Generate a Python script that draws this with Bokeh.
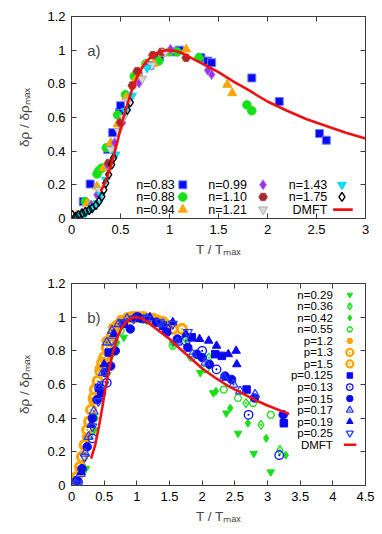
from bokeh.plotting import figure
from bokeh.layouts import column
from bokeh.models import Label, LinearAxis, FixedTicker, Range1d
from bokeh.embed import file_html
from bokeh.resources import INLINE

# ---------------- tick values / labels ----------------
y_ticks = [0, 0.2, 0.4, 0.6, 0.8, 1.0, 1.2]
y_tick_labels = ["0", "0.2", "0.4", "0.6", "0.8", "1", "1.2"]
a_x_ticks = [0, 0.5, 1, 1.5, 2, 2.5, 3]
a_x_tick_labels = ["0", "0.5", "1", "1.5", "2", "2.5", "3"]
b_x_ticks = [0, 0.5, 1, 1.5, 2, 2.5, 3, 3.5, 4, 4.5]
b_x_tick_labels = ["0", "0.5", "1", "1.5", "2", "2.5", "3", "3.5", "4", "4.5"]

# ---------------- DMFT curve (both panels) ----------------
dmft_x = [0.30, 0.365, 0.42, 0.47, 0.52, 0.57, 0.62, 0.67, 0.72, 0.76, 0.82, 0.88, 0.95, 1.00,
          1.06, 1.12, 1.20, 1.30, 1.40, 1.50, 1.65, 1.80, 2.00, 2.20, 2.40, 2.60, 2.80, 3.00, 3.20, 3.33]
dmft_y = [0.16, 0.245, 0.35, 0.46, 0.58, 0.68, 0.77, 0.84, 0.895, 0.93, 0.965, 0.985, 0.998, 1.00,
          0.995, 0.985, 0.96, 0.93, 0.90, 0.87, 0.815, 0.765, 0.695, 0.64, 0.59, 0.55, 0.51, 0.475, 0.445, 0.425]

# ---------------- panel a data ----------------
a_labels = ["n=0.83", "n=0.88", "n=0.94", "n=0.99", "n=1.10", "n=1.21", "n=1.43", "n=1.75"]
a_n083_x = [0.12, 0.19, 0.37, 0.42, 0.49, 0.50, 0.68, 0.80, 0.90, 1.06, 1.10, 1.32, 1.39, 1.43, 1.84, 2.12, 2.53, 2.60]
a_n083_y = [0.10, 0.205, 0.41, 0.51, 0.63, 0.67, 0.85, 0.91, 0.96, 0.99, 1.00, 0.955, 0.935, 0.925, 0.835, 0.695, 0.505, 0.465]
a_n088_x = [0.14, 0.26, 0.28, 0.31, 0.355, 0.47, 0.55, 0.64, 0.76, 0.89, 1.00, 1.08, 1.30, 1.79, 1.84]
a_n088_y = [0.10, 0.265, 0.285, 0.30, 0.42, 0.615, 0.735, 0.845, 0.92, 0.935, 0.99, 0.99, 0.955, 0.675, 0.64]
a_n094_x = [0.05, 0.16, 0.26, 0.33, 0.40, 0.47, 0.56, 0.66, 0.70, 0.75, 0.84, 0.93, 1.17, 1.59, 1.64]
a_n094_y = [0.02, 0.09, 0.19, 0.30, 0.45, 0.56, 0.72, 0.83, 0.84, 0.91, 0.92, 0.98, 1.005, 0.795, 0.745]
a_n099_x = [0.10, 0.20, 0.26, 0.365, 0.44, 0.52, 0.69, 0.78, 1.01, 1.39, 1.43]
a_n099_y = [0.03, 0.08, 0.14, 0.32, 0.45, 0.57, 0.805, 0.91, 1.005, 0.88, 0.855]
a_n110_x = [0.38, 0.50, 0.62, 0.67, 0.83, 0.92, 1.17]
a_n110_y = [0.33, 0.57, 0.79, 0.875, 0.97, 0.99, 0.955]
a_n121_x = [0.04, 0.15, 0.28, 0.40, 0.48, 0.53, 0.58, 0.72, 0.82, 0.96]
a_n121_y = [0.00, 0.04, 0.17, 0.41, 0.52, 0.60, 0.70, 0.83, 0.91, 0.99]
a_n143_x = [0.02, 0.06, 0.10, 0.14, 0.18, 0.22, 0.26, 0.30, 0.35, 0.45, 0.55, 0.62, 0.77]
a_n143_y = [0.00, 0.01, 0.02, 0.03, 0.05, 0.07, 0.09, 0.14, 0.23, 0.38, 0.64, 0.73, 0.895]
a_n175_x = [0.01, 0.04, 0.07, 0.11, 0.14, 0.18, 0.21, 0.25, 0.28, 0.31, 0.33, 0.35, 0.38, 0.41, 0.43, 0.57, 0.60]
a_n175_y = [0.02, 0.01, 0.02, 0.03, 0.04, 0.05, 0.06, 0.08, 0.10, 0.13, 0.17, 0.21, 0.26, 0.32, 0.36, 0.645, 0.69]

# ---------------- panel b data ----------------
b_labels = ["n=0.29", "n=0.36", "n=0.42", "n=0.55", "p=1.2", "p=1.3", "p=1.5",
            "p=0.125", "p=0.13", "p=0.15", "p=0.17", "p=0.19", "p=0.25"]
b_n029_x = [0.22, 0.35, 0.55, 0.80, 1.20, 1.55, 1.97, 2.17, 2.37, 2.55, 2.79, 3.05]
b_n029_y = [0.10, 0.33, 0.66, 0.88, 0.99, 0.84, 0.67, 0.55, 0.43, 0.31, 0.19, 0.08]
b_n036_x = [0.28, 0.62, 1.10, 1.75, 2.10, 2.67, 2.90, 3.19]
b_n036_y = [0.30, 0.78, 0.99, 0.87, 0.76, 0.49, 0.36, 0.21]
b_n042_x = [0.18, 0.45, 0.70, 1.30, 2.21, 2.43, 2.70, 2.98, 3.28]
b_n042_y = [0.12, 0.55, 0.85, 0.98, 0.56, 0.46, 0.37, 0.28, 0.18]
b_n055_x = [0.35, 0.55, 0.75, 1.05, 1.55, 1.84, 2.05, 2.33, 2.55, 2.78, 3.05]
b_n055_y = [0.40, 0.70, 0.92, 1.00, 0.83, 0.76, 0.69, 0.57, 0.52, 0.49, 0.42]
b_p12_x = [0.02, 0.12, 0.22, 0.32, 0.42, 0.52, 0.62, 0.75, 0.90, 1.05, 1.25]
b_p12_y = [0.01, 0.09, 0.29, 0.50, 0.70, 0.86, 0.94, 0.99, 1.00, 1.00, 0.99]
b_p13_x = [0.00, 0.08, 0.16, 0.24, 0.30, 0.36, 0.44, 0.50, 0.58, 0.66, 0.76, 0.86, 0.96, 1.10, 1.25, 1.40, 1.55]
b_p13_y = [0.00, 0.05, 0.17, 0.33, 0.45, 0.57, 0.68, 0.76, 0.86, 0.92, 0.97, 0.995, 1.00, 1.00, 0.99, 0.97, 0.93]
b_p15_x = [0.05, 0.13, 0.20, 0.27, 0.34, 0.40, 0.47, 0.54, 0.62, 0.70, 0.80, 0.92, 1.02, 1.18, 1.32, 1.48, 1.69]
b_p15_y = [0.02, 0.11, 0.24, 0.38, 0.52, 0.62, 0.73, 0.82, 0.89, 0.95, 0.98, 1.00, 1.00, 0.99, 0.98, 0.95, 0.93]
b_p0125_x = [0.42, 0.57, 0.80, 1.10, 1.40, 1.84, 2.20, 2.30, 2.68, 3.25]
b_p0125_y = [0.58, 0.79, 0.96, 0.99, 0.95, 0.88, 0.78, 0.77, 0.57, 0.37]
b_p013_x = [0.10, 0.32, 0.54, 1.00, 1.45, 1.75, 2.00, 2.22, 2.71, 3.18]
b_p013_y = [0.02, 0.28, 0.61, 1.00, 0.93, 0.86, 0.80, 0.69, 0.42, 0.18]
b_p015_x = [0.08, 0.16, 0.24, 0.32, 0.39, 0.46, 0.52, 0.60, 0.67, 0.90, 1.02, 1.30, 1.46, 1.62, 1.78, 1.92, 2.00, 2.11, 2.35, 2.45, 2.80, 3.24]
b_p015_y = [0.03, 0.10, 0.23, 0.40, 0.51, 0.55, 0.67, 0.71, 0.80, 0.93, 1.00, 0.97, 0.91, 0.87, 0.82, 0.78, 0.76, 0.72, 0.65, 0.63, 0.52, 0.42]
b_p017_x = [0.06, 0.14, 0.21, 0.26, 0.34, 0.42, 0.48, 0.54, 0.62, 0.72, 0.85, 1.15, 1.40, 1.62, 1.85, 2.05, 2.33, 2.48, 2.58, 2.81]
b_p017_y = [0.01, 0.07, 0.19, 0.29, 0.44, 0.59, 0.67, 0.85, 0.92, 0.96, 0.99, 0.99, 0.96, 0.85, 0.78, 0.73, 0.64, 0.60, 0.56, 0.54]
b_p019_x = [0.15, 0.30, 0.50, 0.65, 0.95, 1.20, 1.55, 1.75, 1.96, 2.10, 2.22, 2.40, 2.52, 2.53]
b_p019_y = [0.08, 0.36, 0.72, 0.90, 0.99, 1.00, 0.97, 0.90, 0.87, 0.86, 0.83, 0.78, 0.80, 0.72]
b_p025_x = [0.09, 0.20, 0.32, 0.41, 0.50, 0.62, 0.78, 0.95, 1.15, 1.35, 1.55, 1.78]
b_p025_y = [0.01, 0.17, 0.35, 0.50, 0.60, 0.86, 0.97, 0.99, 0.99, 0.97, 0.96, 0.91]

FONT = "Liberation Sans"
FRAME = "#3a3a3a"

BLUE = "#0a0af0"
GREEN = "#18e018"
ORANGE = "#ffa500"


def make_fig(xmax, xticks, xlabels, height, top, bottom):
    p = figure(width=382, height=height, x_range=Range1d(0, xmax), y_range=Range1d(0, 1.2),
               output_backend="svg", toolbar_location=None,
               min_border_left=71, min_border_right=17, min_border_top=top, min_border_bottom=bottom)
    p.grid.visible = False
    p.outline_line_color = FRAME
    p.outline_line_width = 1
    p.background_fill_color = "white"
    p.border_fill_color = "white"
    bottom_ax = p.xaxis[0]
    left_ax = p.yaxis[0]
    bottom_ax.ticker = FixedTicker(ticks=xticks)
    left_ax.ticker = FixedTicker(ticks=y_ticks)
    bottom_ax.major_label_overrides = {t: l for t, l in zip(xticks, xlabels)}
    left_ax.major_label_overrides = {t: l for t, l in zip(y_ticks, y_tick_labels)}
    # mirrored axes (ticks only)
    top_ax = LinearAxis(ticker=FixedTicker(ticks=xticks),
                        major_label_overrides={t: "" for t in xticks})
    right_ax = LinearAxis(ticker=FixedTicker(ticks=y_ticks),
                          major_label_overrides={t: "" for t in y_ticks})
    p.add_layout(top_ax, "above")
    p.add_layout(right_ax, "right")
    for ax in [bottom_ax, left_ax, top_ax, right_ax]:
        ax.major_tick_in = 5
        ax.major_tick_out = 0
        ax.minor_tick_in = 0
        ax.minor_tick_out = 0
        ax.axis_line_color = FRAME
        ax.major_tick_line_color = FRAME
        ax.major_label_text_font = FONT
        ax.major_label_text_font_size = "13px"
        ax.major_label_text_color = "black"
        ax.axis_label_text_font = FONT
        ax.axis_label_text_font_style = "normal"
        ax.axis_label_text_font_size = "13.5px"
    for ax in [top_ax, right_ax]:
        ax.major_label_standoff = 0
        ax.major_label_text_font_size = "0px"
    bottom_ax.major_label_standoff = 6
    left_ax.major_label_standoff = 6
    bottom_ax.axis_label = "T / Tₘₐₓ"
    bottom_ax.axis_label_standoff = 5
    left_ax.axis_label = "δρ / δρₘₐₓ"
    left_ax.axis_label_standoff = 12
    return p


def pts(p, x, y, marker, size, fill, line, lw=1.0):
    p.scatter(x=x, y=y, marker=marker, size=size, fill_color=fill, line_color=line, line_width=lw)


# ================= panel a =================
pa = make_fig(3, a_x_ticks, a_x_tick_labels, 267, 16, 49)

a_styles = [
    (a_n083_x, a_n083_y, "square", 8, BLUE, "#7080ff", 1.0),
    (a_n088_x, a_n088_y, "circle", 8.5, GREEN, GREEN, 1.0),
    (a_n094_x, a_n094_y, "triangle", 9, ORANGE, ORANGE, 1.0),
    (a_n099_x, a_n099_y, "diamond", 10, "#9b30e6", "#b070f0", 1.0),
    (a_n110_x, a_n110_y, "hex", 8.5, "#a52a2a", "#b04040", 1.0),
    (a_n121_x, a_n121_y, "inverted_triangle", 9, "#d8d8d8", "#a8a8a8", 1.0),
    (a_n143_x, a_n143_y, "inverted_triangle", 8.5, "#00e5ff", "#00d0f0", 1.0),
    (a_n175_x, a_n175_y, "diamond", 9, None, "black", 1.4),
]
for x, y, m, s, f, l, lw in a_styles:
    pts(pa, x, y, m, s, f, l, lw)
pa.line(dmft_x, dmft_y, line_color="#ee1111", line_width=2.6)

# legend a (3 columns, text left of marker)
a_col_text = [1.054, 1.79, 2.61]
a_col_mark = [1.136, 1.955, 2.76]
a_rows = [0.20, 0.128, 0.053]
for i, (lab, st) in enumerate(zip(a_labels, a_styles)):
    c, r = divmod(i, 3)
    pa.text(x=[a_col_text[c]], y=[a_rows[r]], text=[lab], text_align="right", text_baseline="middle",
            text_font_size="12.5px", text_font={"value": FONT}, text_color="black")
    pa.scatter(x=[a_col_mark[c]], y=[a_rows[r]], marker=st[2], size=st[3], fill_color=st[4],
               line_color=st[5], line_width=st[6])
pa.text(x=[a_col_text[2]], y=[a_rows[2]], text=["DMFT"], text_align="right", text_baseline="middle",
        text_font_size="12.5px", text_font={"value": FONT}, text_color="black")
pa.line(x=[2.67, 2.87], y=[a_rows[2], a_rows[2]], line_color="#ee1111", line_width=2.6)
pa.add_layout(Label(x=0.16, y=1.0, text="a)", text_font=FONT, text_font_size="15px",
                    text_baseline="middle", text_align="left"))

# ================= panel b =================
pb = make_fig(4.5, b_x_ticks, b_x_tick_labels, 267, 16, 49)
b_styles = [
    (b_n029_x, b_n029_y, "inverted_triangle", 7.5, GREEN, GREEN, 1.0),
    (b_n036_x, b_n036_y, "diamond_dot", 9, None, GREEN, 1.3),
    (b_n042_x, b_n042_y, "diamond", 8, GREEN, GREEN, 1.0),
    (b_n055_x, b_n055_y, "hex", 7.5, None, GREEN, 1.3),
    (b_p12_x, b_p12_y, "hex", 8, ORANGE, ORANGE, 1.0),
    (b_p13_x, b_p13_y, "circle_dot", 9, None, ORANGE, 3.2),
    (b_p15_x, b_p15_y, "circle_dot", 9, None, ORANGE, 3.2),
    (b_p0125_x, b_p0125_y, "square", 7.5, BLUE, BLUE, 1.0),
    (b_p013_x, b_p013_y, "circle_dot", 8.5, None, BLUE, 1.3),
    (b_p015_x, b_p015_y, "circle", 8.5, BLUE, BLUE, 1.0),
    (b_p017_x, b_p017_y, "triangle_dot", 9, None, "#2a3ef0", 1.3),
    (b_p019_x, b_p019_y, "triangle", 8.5, BLUE, BLUE, 1.0),
    (b_p025_x, b_p025_y, "inverted_triangle", 9, None, "#2a3ef0", 1.3),
]
for x, y, m, s, f, l, lw in b_styles:
    pts(pb, x, y, m, s, f, l, lw)
pb.line(dmft_x, dmft_y, line_color="#ee1111", line_width=2.6)

b_text_x = 4.0
b_mark_x = 4.26
b_row0 = 1.133
b_row_step = 0.0685
for i, (lab, st) in enumerate(zip(b_labels, b_styles)):
    yy = b_row0 - i * b_row_step
    pb.text(x=[b_text_x], y=[yy], text=[lab], text_align="right", text_baseline="middle",
            text_font_size="11.5px", text_font={"value": FONT}, text_color="black")
    pb.scatter(x=[b_mark_x], y=[yy], marker=st[2], size=max(st[3] - 2, 5), fill_color=st[4],
               line_color=st[5], line_width=min(st[6], 2.2))
yy = b_row0 - len(b_labels) * b_row_step
pb.text(x=[b_text_x], y=[yy], text=["DMFT"], text_align="right", text_baseline="middle",
        text_font_size="11.5px", text_font={"value": FONT}, text_color="black")
pb.line(x=[4.17, 4.36], y=[yy, yy], line_color="#ee1111", line_width=2.6)
pb.add_layout(Label(x=0.24, y=1.0, text="b)", text_font=FONT, text_font_size="15px",
                    text_baseline="middle", text_align="left"))

layout = column(pa, pb, spacing=0)
with open("out.html", "w") as fh:
    fh.write(file_html(layout, INLINE))
